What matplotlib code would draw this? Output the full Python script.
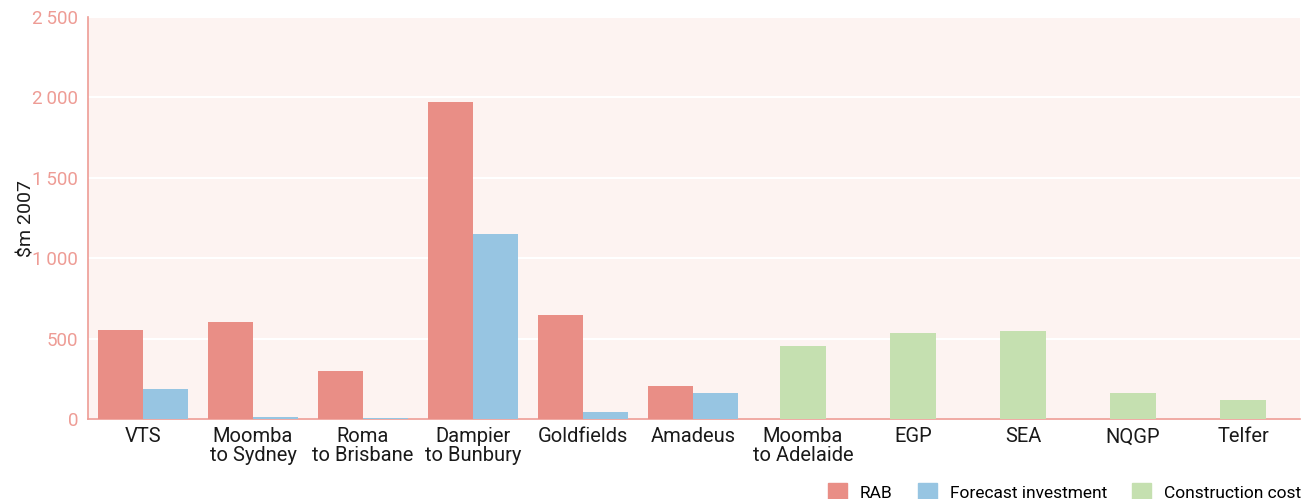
import numpy as np
import matplotlib
matplotlib.use('Agg')
import matplotlib.pyplot as plt
from matplotlib.patches import Patch

plt.rcParams['font.family'] = ['Roboto', 'DejaVu Sans']

pipelines = ['VTS', 'Moomba\nto Sydney', 'Roma\nto Brisbane', 'Dampier\nto Bunbury',
             'Goldfields', 'Amadeus', 'Moomba\nto Adelaide', 'EGP', 'SEA', 'NQGP', 'Telfer']
rab = [557, 607, 301, 1972, 650, 208, 0, 0, 0, 0, 0]
forecast = [189, 15, 10, 1149, 46, 164, 0, 0, 0, 0, 0]
construction = [0, 0, 0, 0, 0, 0, 457, 538, 550, 164, 120]
yticks = [0, 500, 1000, 1500, 2000, 2500]
ytick_labels = ['0', '500', '1\u2009000', '1\u2009500', '2\u2009000', '2\u2009500']

c_rab = '#e98e86'
c_fc = '#97c5e2'
c_cc = '#c5e0b0'
salmon = '#ee9c95'
bg = '#fdf3f1'

fig = plt.figure(figsize=(13.02, 4.99), dpi=100)
ax = fig.add_axes([0.0676, 0.160, 0.931, 0.806])
ax.set_facecolor(bg)

x = np.arange(len(pipelines))
w = 0.41
ax.bar(x - w / 2, rab, w, color=c_rab, zorder=3)
ax.bar(x + w / 2, forecast, w, color=c_fc, zorder=3)
ax.bar(x, construction, w, color=c_cc, zorder=3)

ax.set_xlim(-0.5, len(pipelines) - 0.48)
ax.set_ylim(0, 2500)
ax.set_yticks(yticks)
ax.set_yticklabels(ytick_labels)
ax.set_xticks(x)
ax.set_xticklabels(pipelines, fontsize=14.5, color='#1a1a1a', linespacing=1.0)
ax.tick_params(axis='y', length=0, pad=7, labelsize=13.5, labelcolor=salmon)
ax.tick_params(axis='x', length=0, pad=6)

ax.grid(axis='y', color='white', linewidth=1.5, zorder=0)
for s in ['top', 'right']:
    ax.spines[s].set_visible(False)
for s in ['left', 'bottom']:
    ax.spines[s].set_color(salmon)
    ax.spines[s].set_linewidth(1.2)
    ax.spines[s].set_zorder(2)

ax.set_ylabel('$m 2007', fontsize=14, color='#1a1a1a', labelpad=-2)

handles = [Patch(color=c_rab, label='RAB'),
           Patch(color=c_fc, label='Forecast investment'),
           Patch(color=c_cc, label='Construction cost')]
fig.legend(handles=handles, loc='lower right', bbox_to_anchor=(1.009, -0.03), ncol=3,
           frameon=False, fontsize=12.5, handlelength=1.1, handleheight=1.3,
           columnspacing=1.45, handletextpad=0.75, borderpad=0.2)

fig.savefig('out.png', dpi=100, facecolor='white')
